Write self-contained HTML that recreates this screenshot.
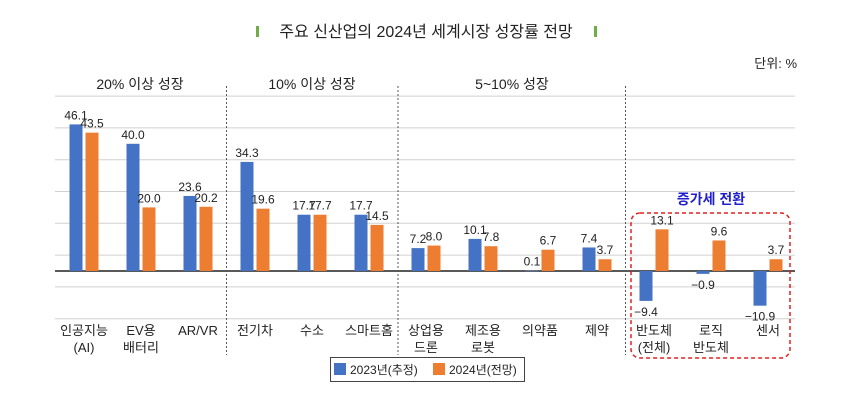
<!DOCTYPE html>
<html><head><meta charset="utf-8"><style>
body{margin:0;background:#fff;}
svg text{font-family:"Liberation Sans","Noto Sans CJK KR",sans-serif;fill:#222;}
</style></head><body>
<svg id="c" width="852" height="405" viewBox="0 0 852 405" xmlns="http://www.w3.org/2000/svg">
<rect x="256" y="26" width="3" height="11" fill="#70ad47"/>
<text x="426" y="37" font-size="16" text-anchor="middle">주요 신산업의 2024년 세계시장 성장률 전망</text>
<rect x="594" y="26" width="3" height="11" fill="#70ad47"/>
<text x="797" y="68" font-size="13" text-anchor="end">단위: %</text>
<g id="grid"></g>
<g id="bars"></g>
<g id="labels"></g>
<text x="140" y="89" font-size="14" text-anchor="middle">20% 이상 성장</text>
<text x="312" y="89" font-size="14" text-anchor="middle">10% 이상 성장</text>
<text x="512" y="89" font-size="14" text-anchor="middle">5~10% 성장</text>
<line x1="226.5" y1="86" x2="226.5" y2="355" stroke="#555" stroke-dasharray="2,2"/>
<line x1="398" y1="86" x2="398" y2="355" stroke="#555" stroke-dasharray="2,2"/>
<line x1="625.5" y1="86" x2="625.5" y2="355" stroke="#555" stroke-dasharray="2,2"/>
<text x="711" y="204" font-size="14" text-anchor="middle" style="fill:#1f1fd0" font-weight="bold">증가세 전환</text>
<rect x="631" y="213" width="159" height="145" rx="9" fill="none" stroke="#e02020" stroke-width="1.5" stroke-dasharray="4,3"/>
<g>
<rect x="330.5" y="357.5" width="194" height="24" fill="#fff" stroke="#444"/>
<rect x="334" y="363" width="12" height="12" fill="#4472c4"/>
<text x="350" y="374" font-size="12">2023년(추정)</text>
<rect x="433" y="363" width="12" height="12" fill="#ed7d31"/>
<text x="449" y="374" font-size="12">2024년(전망)</text>
</g>
</svg>
<script>
const categories=[["인공지능","(AI)"],["EV용","배터리"],["AR/VR"],["전기차"],["수소"],["스마트홈"],["상업용","드론"],["제조용","로봇"],["의약품"],["제약"],["반도체","(전체)"],["로직","반도체"],["센서"]];
const series2023=[46.1,40.0,23.6,34.3,17.7,17.7,7.2,10.1,0.1,7.4,-9.4,-0.9,-10.9];
const series2024=[43.5,20.0,20.2,19.6,17.7,14.5,8.0,7.8,6.7,3.7,13.1,9.6,3.7];
const gridValues=[-15,-5,5,15,25,35,45,55];
const NS="http://www.w3.org/2000/svg";
function y(v){return 271-v*3.18;}
function x(i){return 84+i*57.1 - (i>=12?0:0);}
function mk(tag,attrs,parent){const e=document.createElementNS(NS,tag);for(const k in attrs)e.setAttribute(k,attrs[k]);document.getElementById(parent).appendChild(e);return e;}
const n=categories.length;
const step=(768-84)/(n-1);
function cx(i){return 84+i*step;}
gridValues.forEach(g=>{
 const l=mk('line',{x1:55,x2:795,y1:y(g),y2:y(g),stroke:'#d0d0d0'},'grid');
 
 
});
const z=mk('line',{x1:55,x2:795,y1:y(0),y2:y(0),stroke:'#222','stroke-width':1.5},'grid');


function fmt(v){return (v<0?'−':'')+Math.abs(v).toFixed(1);}
for(let i=0;i<n;i++){
 const c=cx(i);
 [[series2023[i],'#4472c4',c-14.5,'bar-2023'],[series2024[i],'#ed7d31',c+1.5,'bar-2024']].forEach(([v,col,bx,nm])=>{
  const top=Math.min(y(v),y(0)),h=Math.abs(y(v)-y(0));
  const r=mk('rect',{x:bx,y:top,width:13,height:Math.max(h,0.5),fill:col},'bars');
  
  
  const ty=v>=0?y(v)-5:y(v)+15;
  const t=mk('text',{x:bx+6.5,y:ty,'font-size':12,'text-anchor':'middle'},'labels');
  t.textContent=fmt(v);
  
  
 });
 categories[i].forEach((s,j)=>{
  const t=mk('text',{x:c,y:335+j*17,'font-size':13,'text-anchor':'middle'},'labels');
  t.textContent=s;
  
  
 });
}
</script>
</body></html>
